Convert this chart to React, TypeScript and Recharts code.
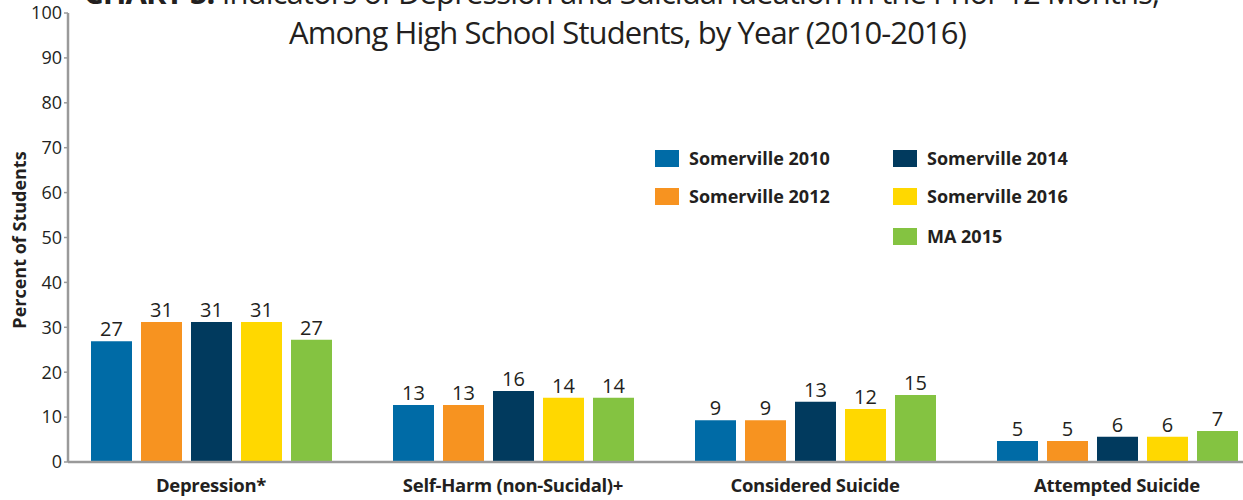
import { BarChart, Bar, XAxis, YAxis, LabelList } from 'recharts'

const categories = ['Depression*', 'Self-Harm (non-Sucidal)+', 'Considered Suicide', 'Attempted Suicide']
const somerville2010 = [26.9, 12.7, 9.3, 4.7]
const somerville2012 = [31.2, 12.7, 9.3, 4.7]
const somerville2014 = [31.2, 15.8, 13.4, 5.6]
const somerville2016 = [31.2, 14.3, 11.8, 5.6]
const ma2015 = [27.2, 14.3, 14.9, 6.9]
const yTicks = [0, 10, 20, 30, 40, 50, 60, 70, 80, 90, 100]

const series = [
  { key: 's2010', name: 'Somerville 2010', color: '#006ba6' },
  { key: 's2012', name: 'Somerville 2012', color: '#f79320' },
  { key: 's2014', name: 'Somerville 2014', color: '#013a5e' },
  { key: 's2016', name: 'Somerville 2016', color: '#ffd800' },
  { key: 'ma2015', name: 'MA 2015', color: '#84c341' },
]

const chartData = categories.map((name, i) => ({
  name,
  s2010: somerville2010[i],
  s2012: somerville2012[i],
  s2014: somerville2014[i],
  s2016: somerville2016[i],
  ma2015: ma2015[i],
}))

const font = '"Open Sans", "Noto Sans", sans-serif'
const textColor = '#231f20'

// legend laid out in two columns like the original
const legendItems = [
  { ...series[0], left: 655, top: 146 },
  { ...series[1], left: 655, top: 184 },
  { ...series[2], left: 893, top: 146 },
  { ...series[3], left: 893, top: 184 },
  { ...series[4], left: 893, top: 224 },
]

export default function App() {
  return (
    <div
      style={{
        position: 'absolute',
        left: 0,
        top: 0,
        width: 1243,
        height: 500,
        overflow: 'hidden',
        background: '#fff',
        fontFamily: font,
      }}
    >
      <BarChart
        width={1268}
        height={500}
        data={chartData}
        margin={{ top: 13, right: 0, left: 0, bottom: 0 }}
        barCategoryGap={31}
        barGap={9}
      >
        <XAxis
          dataKey="name"
          height={38}
          padding={{ left: -8, right: 0 }}
          axisLine={{ stroke: '#9a9a9a', strokeWidth: 2.5 }}
          tickLine={false}
          tickMargin={11}
          tick={{ fontSize: 18.5, fontWeight: 700, fill: textColor, fontFamily: font, letterSpacing: -0.3 }}
          interval={0}
        />
        <YAxis
          width={68}
          domain={[0, 100]}
          ticks={yTicks}
          interval={0}
          axisLine={{ stroke: '#9a9a9a', strokeWidth: 2.5 }}
          tickLine={{ stroke: '#9a9a9a', strokeWidth: 1.5 }}
          tickSize={4}
          tickMargin={2}
          tick={{ fontSize: 18, fill: textColor, fontFamily: font }}
        />
        {series.map((s) => (
          <Bar key={s.key} dataKey={s.key} name={s.name} fill={s.color} isAnimationActive={false}>
            <LabelList
              dataKey={s.key}
              position="top"
              offset={5}
              formatter={(v: number) => Math.round(v)}
              style={{ fontSize: 20, fill: textColor, fontFamily: font }}
            />
          </Bar>
        ))}
      </BarChart>

      <div
        style={{
          position: 'absolute',
          left: 0,
          width: 1243,
          top: -28,
          textAlign: 'center',
          fontSize: 31,
          lineHeight: '40px',
          color: textColor,
          letterSpacing: -0.9,
        }}
      >
        <div>
          <b>CHART 5:</b> Indicators of Depression and Suicidal Ideation in the Prior 12 Months,
        </div>
        <div style={{ paddingLeft: 12 }}>Among High School Students, by Year (2010-2016)</div>
      </div>

      <div
        style={{
          position: 'absolute',
          left: 19,
          top: 240,
          transform: 'translate(-50%, -50%) rotate(-90deg)',
          whiteSpace: 'nowrap',
          fontSize: 18,
          fontWeight: 700,
          color: textColor,
        }}
      >
        Percent of Students
      </div>

      {legendItems.map((item) => (
        <div
          key={item.key}
          style={{
            position: 'absolute',
            left: item.left,
            top: item.top,
            display: 'flex',
            alignItems: 'center',
            gap: 10,
            fontSize: 18,
            fontWeight: 700,
            color: textColor,
            whiteSpace: 'nowrap',
          }}
        >
          <span style={{ width: 24, height: 17, background: item.color, display: 'inline-block' }} />
          <span>{item.name}</span>
        </div>
      ))}
    </div>
  )
}
